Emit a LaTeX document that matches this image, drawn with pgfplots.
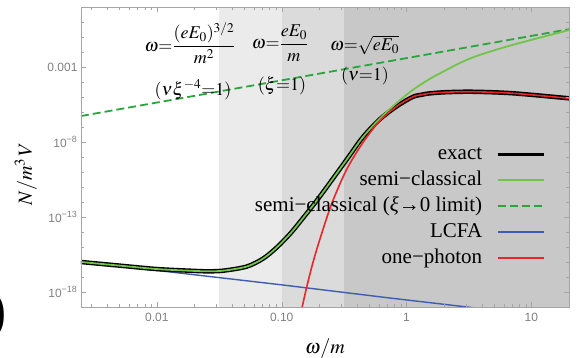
\documentclass[border=0pt]{standalone}
\usepackage{mathptmx}
\usepackage{fontspec}
\setmainfont{Liberation Serif}
\newfontfamily\tickfont{Liberation Sans}
\usepackage{pgfplots}
\pgfplotsset{compat=1.18}
\definecolor{semigreen}{RGB}{112,196,72}
\definecolor{dashgreen}{RGB}{40,165,60}
\definecolor{lcfablue}{RGB}{62,92,178}
\definecolor{photred}{RGB}{236,38,38}
\definecolor{shadeA}{RGB}{235,235,235}
\definecolor{shadeB}{RGB}{219,219,219}
\definecolor{shadeC}{RGB}{200,200,200}
\definecolor{axgray}{RGB}{165,165,165}
\definecolor{labgray}{RGB}{128,128,128}
\begin{document}
\begin{tikzpicture}
\begin{axis}[
  xmode=log, ymode=log,
  scale only axis, width=488pt, height=300pt,
  xmin=0.00247, xmax=20, ymin=1e-19, ymax=10,
  clip mode=individual,
  axis on top,
  axis line style={axgray},
  tick style={axgray},
  major tick length=5pt, minor tick length=3pt,
  xtick={0.01,0.1,1,10},
  xticklabels={0.01,0.10,1,10},
  minor xtick={0.003,0.004,0.005,0.006,0.007,0.008,0.009,0.02,0.03,0.04,0.05,0.06,0.07,0.08,0.09,0.2,0.3,0.4,0.5,0.6,0.7,0.8,0.9,2,3,4,5,6,7,8,9,20},
  ytick={1e-18,1e-13,1e-8,1e-3},
  yticklabels={10\textsuperscript{−18},10\textsuperscript{−13},10\textsuperscript{−8},0.001},
  minor ytick={1e-19,1e-17,1e-16,1e-15,1e-14,1e-12,1e-11,1e-10,1e-9,1e-7,1e-6,1e-5,1e-4,1e-2,1e-1,1,10},
  tick label style={font=\tickfont\fontsize{12}{12}\selectfont, text=labgray},
  xticklabel shift=3pt,
  legend cell align=right,
  legend plot pos=right,
  legend image code/.code={\draw[#1] (0pt,0pt) -- (46pt,0pt);},
  legend style={at={(0.957,0.55)}, anchor=north east, draw=none, fill=none,
    font=\fontsize{21}{21}\selectfont, row sep=6pt, column sep=14pt,
    nodes={inner sep=0pt, text height=15pt, text depth=5pt}},
]
% shaded regions
\addplot[fill=shadeA, draw=none, forget plot] coordinates {(0.03162,1e-19) (0.1,1e-19) (0.1,10) (0.03162,10)} -- cycle;
\addplot[fill=shadeB, draw=none, forget plot] coordinates {(0.1,1e-19) (0.3162,1e-19) (0.3162,10) (0.1,10)} -- cycle;
\addplot[fill=shadeC, draw=none, forget plot] coordinates {(0.3162,1e-19) (20,1e-19) (20,10) (0.3162,10)} -- cycle;
% LCFA
\addplot[lcfablue, line width=1.4pt, forget plot] coordinates {
 (0.002466,1.0e-16) (0.01,2.75e-17) (0.1,3.0e-18) (0.731,4.0e-19) (3.373,9.1e-20) (20,1.6e-20)};
% semi-classical xi->0 limit
\addplot[dashgreen, line width=1.8pt, dash pattern=on 8pt off 4pt, forget plot] coordinates {
 (0.002466,5.37e-7) (20,0.33)};
% exact
\addplot[black, line width=4.5pt, smooth, forget plot] coordinates {
 (0.002466,1.0e-16) (0.005012,5.75e-17) (0.01,3.39e-17) (0.01837,2.63e-17) (0.0251,2.40e-17)
 (0.03388,2.63e-17) (0.05224,4.90e-17) (0.07079,1.66e-16) (0.09078,8.91e-16) (0.1159,7.08e-15)
 (0.1393,4.47e-14) (0.2014,2.24e-12) (0.3296,6.31e-10) (0.4446,2.0e-8) (0.6081,3.16e-7)
 (0.828,2.29e-6) (1.117,1.0e-5) (1.318,1.41e-5) (1.528,1.74e-5) (2.080,2.09e-5) (3.373,2.24e-5)
 (7.047,1.78e-5) (20.14,8.13e-6)};
% semi-classical
\addplot[semigreen, line width=1.8pt, smooth, forget plot] coordinates {
 (0.002466,1.0e-16) (0.005012,5.75e-17) (0.01,3.39e-17) (0.01837,2.63e-17) (0.0251,2.40e-17)
 (0.03388,2.63e-17) (0.05224,4.90e-17) (0.07079,1.66e-16) (0.09078,8.91e-16) (0.1159,7.08e-15)
 (0.1393,4.47e-14) (0.2014,2.24e-12) (0.3296,6.31e-10) (0.4446,2.0e-8) (0.6081,3.55e-7)
 (0.828,3.80e-6) (1.122,2.95e-5) (1.528,1.58e-4) (2.080,6.31e-4) (2.805,2.24e-3)
 (3.837,6.31e-3) (7.047,2.95e-2) (20.14,0.295)};
% one-photon
\addplot[photred, line width=1.6pt, smooth, forget plot] coordinates {
 (0.1413,3.0e-20) (0.1578,1.78e-18) (0.1778,8.9e-17) (0.2014,2.95e-15) (0.25,6.8e-13)
 (0.3296,1.35e-10) (0.4446,8.5e-9) (0.6081,2.5e-7) (0.828,2.29e-6) (1.117,1.0e-5)
 (1.318,1.41e-5) (1.528,1.74e-5) (2.080,2.09e-5) (3.373,2.24e-5) (7.047,1.78e-5) (20.14,8.13e-6)};
% legend
\addlegendimage{black, line width=2.6pt}
\addlegendentry{exact}
\addlegendimage{semigreen, line width=2.4pt}
\addlegendentry{semi−classical}
\addlegendimage{dashgreen, line width=2.4pt, dash pattern=on 8pt off 4pt}
\addlegendentry{semi−classical (\textit{ξ}→0 limit)}
\addlegendimage{lcfablue, line width=2.4pt}
\addlegendentry{LCFA}
\addlegendimage{photred, line width=2.4pt}
\addlegendentry{one−photon}
% annotations
\node[font=\fontsize{18}{18}\selectfont] at (rel axis cs:0.2234,0.88) {$\omega{=}\displaystyle\frac{(eE_0)^{3/2}}{m^2}$};
\node[font=\fontsize{18}{18}\selectfont] at (rel axis cs:0.4078,0.88) {$\omega{=}\displaystyle\frac{eE_0}{m}$};
\node[font=\fontsize{18}{18}\selectfont] at (rel axis cs:0.581,0.873) {$\omega{=}\sqrt{eE_0}$};
\node[font=\fontsize{18}{18}\selectfont] at (rel axis cs:0.2295,0.7233) {$(\nu\xi^{-4}{=}1)$};
\node[font=\fontsize{18}{18}\selectfont] at (rel axis cs:0.4119,0.7367) {$(\xi{=}1)$};
\node[font=\fontsize{18}{18}\selectfont] at (rel axis cs:0.582,0.77) {$(\nu{=}1)$};
% axis labels
\node[rotate=90, font=\fontsize{20}{20}\selectfont] at (rel axis cs:-0.113,0.443) {$N/m^3\,V$};
\node[font=\fontsize{20}{20}\selectfont] at (rel axis cs:0.5,-0.14) {$\omega/m$};
% fragment of a large parenthesis at the left edge
\node[font=\fontsize{58}{58}\selectfont\bfseries, anchor=east, inner sep=0pt] at (rel axis cs:-0.152,-0.03) {)};
\end{axis}
\pgfresetboundingbox
\path ([shift={(-81pt,-51pt)}]current axis.south west) rectangle ([shift={(12pt,7pt)}]current axis.north east);
\end{tikzpicture}
\end{document}
